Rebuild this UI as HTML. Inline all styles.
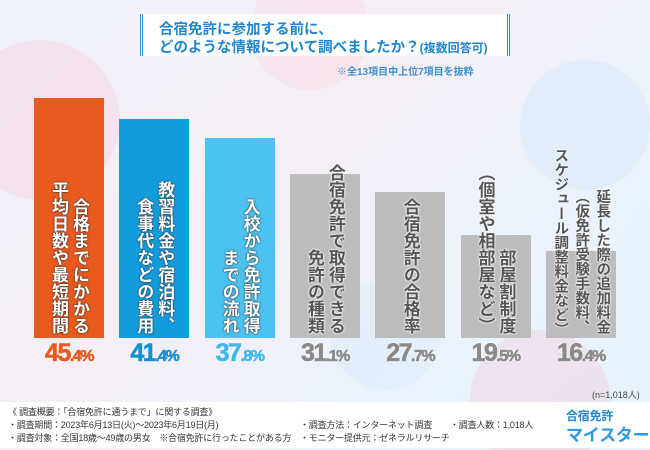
<!DOCTYPE html>
<html><head><meta charset="utf-8">
<style>
body{margin:0;width:650px;height:450px;overflow:hidden;font-family:"Liberation Sans","Noto Sans CJK JP",sans-serif;}
#bg{position:absolute;left:0;top:0;width:650px;height:450px;background:linear-gradient(135deg,#eef3fb 0%,#f6eef6 40%,#eaf3fb 70%,#e6f2fb 100%);overflow:hidden}
.circ{position:absolute;border-radius:50%;opacity:.35}
#title{position:absolute;left:140px;top:14px;width:370px;height:42px;background:#fff;border-left:3px double #2a8fd6;border-right:3px double #2a8fd6;box-sizing:border-box}
#title div{position:absolute;left:16px;font-size:14.5px;font-weight:bold;color:#1f86cf;white-space:nowrap}
.lab{position:absolute;writing-mode:vertical-rl;text-align:end;font-weight:bold;font-size:17px;line-height:21px;white-space:pre;transform:translateX(-50%)}
.val{position:absolute;font-weight:bold;font-size:25px;text-align:center;width:90px;letter-spacing:-1.5px;-webkit-text-stroke:0.6px currentColor;text-shadow:0 0 2px #fff,0 0 2px #fff}
.val small{font-size:16px}
#footer{position:absolute;left:0;top:402px;width:650px;height:46px;background:#fff}
#footer span{position:absolute;font-size:9px;color:#333;white-space:nowrap;letter-spacing:-0.2px}
</style></head><body>
<div id="bg">
<div class="circ" style="left:-40px;top:40px;width:160px;height:160px;background:#f9c9d8"></div>
<div class="circ" style="left:250px;top:-30px;width:120px;height:120px;background:#fbd3e0"></div>
<div class="circ" style="left:470px;top:330px;width:140px;height:140px;background:#f7c7d6"></div>
<div class="circ" style="left:520px;top:60px;width:130px;height:130px;background:#cfe6fa"></div>
<div class="circ" style="left:330px;top:280px;width:110px;height:110px;background:#d6e8fb"></div>
</div>
<div id="title">
<div style="top:4px">合宿免許に参加する前に、</div>
<div style="top:22px">どのような情報について調べましたか？<span style="font-size:12px">(複数回答可)</span></div>
</div>
<div style="position:absolute;left:337px;top:63px;font-size:10px;font-weight:bold;color:#3b8fd0">※全13項目中上位7項目を抜粋</div>
<div id="chart"></div>
<div style="position:absolute;left:592px;top:388px;font-size:9px;color:#444">(n=1,018人)</div>
<div id="footer">
<span style="left:8px;top:3px">《 調査概要：「合宿免許に通うまで」に関する調査》</span>
<span style="left:8px;top:16px">・調査期間：2023年6月13日(火)～2023年6月19日(月)</span>
<span style="left:8px;top:29px">・調査対象：全国18歳～49歳の男女　※合宿免許に行ったことがある方</span>
<span style="left:300px;top:16px">・調査方法：インターネット調査</span>
<span style="left:300px;top:29px">・モニター提供元：ゼネラルリサーチ</span>
<span style="left:450px;top:16px">・調査人数：1,018人</span>
<span style="left:566px;top:4px;font-size:12px;font-weight:bold;color:#1f86cf;line-height:20px">合宿免許<br><span style="position:static;font-size:17px;color:#2a9be0">マイスター</span></span>
</div>
<script>
const categories=["合格までにかかる\n平均日数や最短期間","教習料金や宿泊料、\n食事代などの費用","入校から免許取得\nまでの流れ","合宿免許で取得できる\n免許の種類","合宿免許の合格率","部屋割制度\n（個室や相部屋など）","延長した際の追加料金\n（仮免許受験手数料、\nスケジュール調整料金など）"];
const values=[45.4,41.4,37.8,31.1,27.7,19.5,16.4];
const barColors=["#e85a1d","#119ddc","#4cc2f1","#bcbcbc","#bcbcbc","#bcbcbc","#bcbcbc"];
const valColors=["#e85a1d","#1590d2","#3fb8ee","#8a8a8a","#8a8a8a","#8a8a8a","#8a8a8a"];
const baseY=338, pxPer=240/45.4, x0=34, step=85.3, bw=70, textBottom=334;
const y=v=>baseY-v*pxPer;
const chart=document.getElementById('chart');
values.forEach((v,i)=>{
  const x=x0+i*step;
  const b=document.createElement('div');
  
  
  b.style.cssText=`position:absolute;left:${x}px;top:${y(v)}px;width:${bw}px;height:${v*pxPer}px;background:${barColors[i]}`;
  chart.appendChild(b);
  const l=document.createElement('div');
  
  
  l.className='lab';
  const light=i<3;
  const small=i===6;
  const top=small?148:140;
  l.style.left=(x+bw/2)+'px';
  l.style.top=top+'px';
  l.style.height=(textBottom-top)+'px';
  l.style.color=light?'#fff':'#555';
  l.style.textShadow=light?'0 0 2px #333,0 0 1px #333':'0 0 2px #fff,0 0 2px #fff,0 0 1px #fff';
  if(small){l.style.fontSize='14.5px';l.style.lineHeight='21px';l.style.letterSpacing='0px';}
  l.textContent=categories[i];
  chart.appendChild(l);
  const t=document.createElement('div');
  
  
  t.className='val';
  t.style.left=(x+bw/2-45)+'px';
  t.style.top='339px';
  t.style.color=valColors[i];
  const s=v.toFixed(1).split('.');
  t.innerHTML=s[0]+'<small>.'+s[1]+'%</small>';
  chart.appendChild(t);
});
</script>
</body></html>
